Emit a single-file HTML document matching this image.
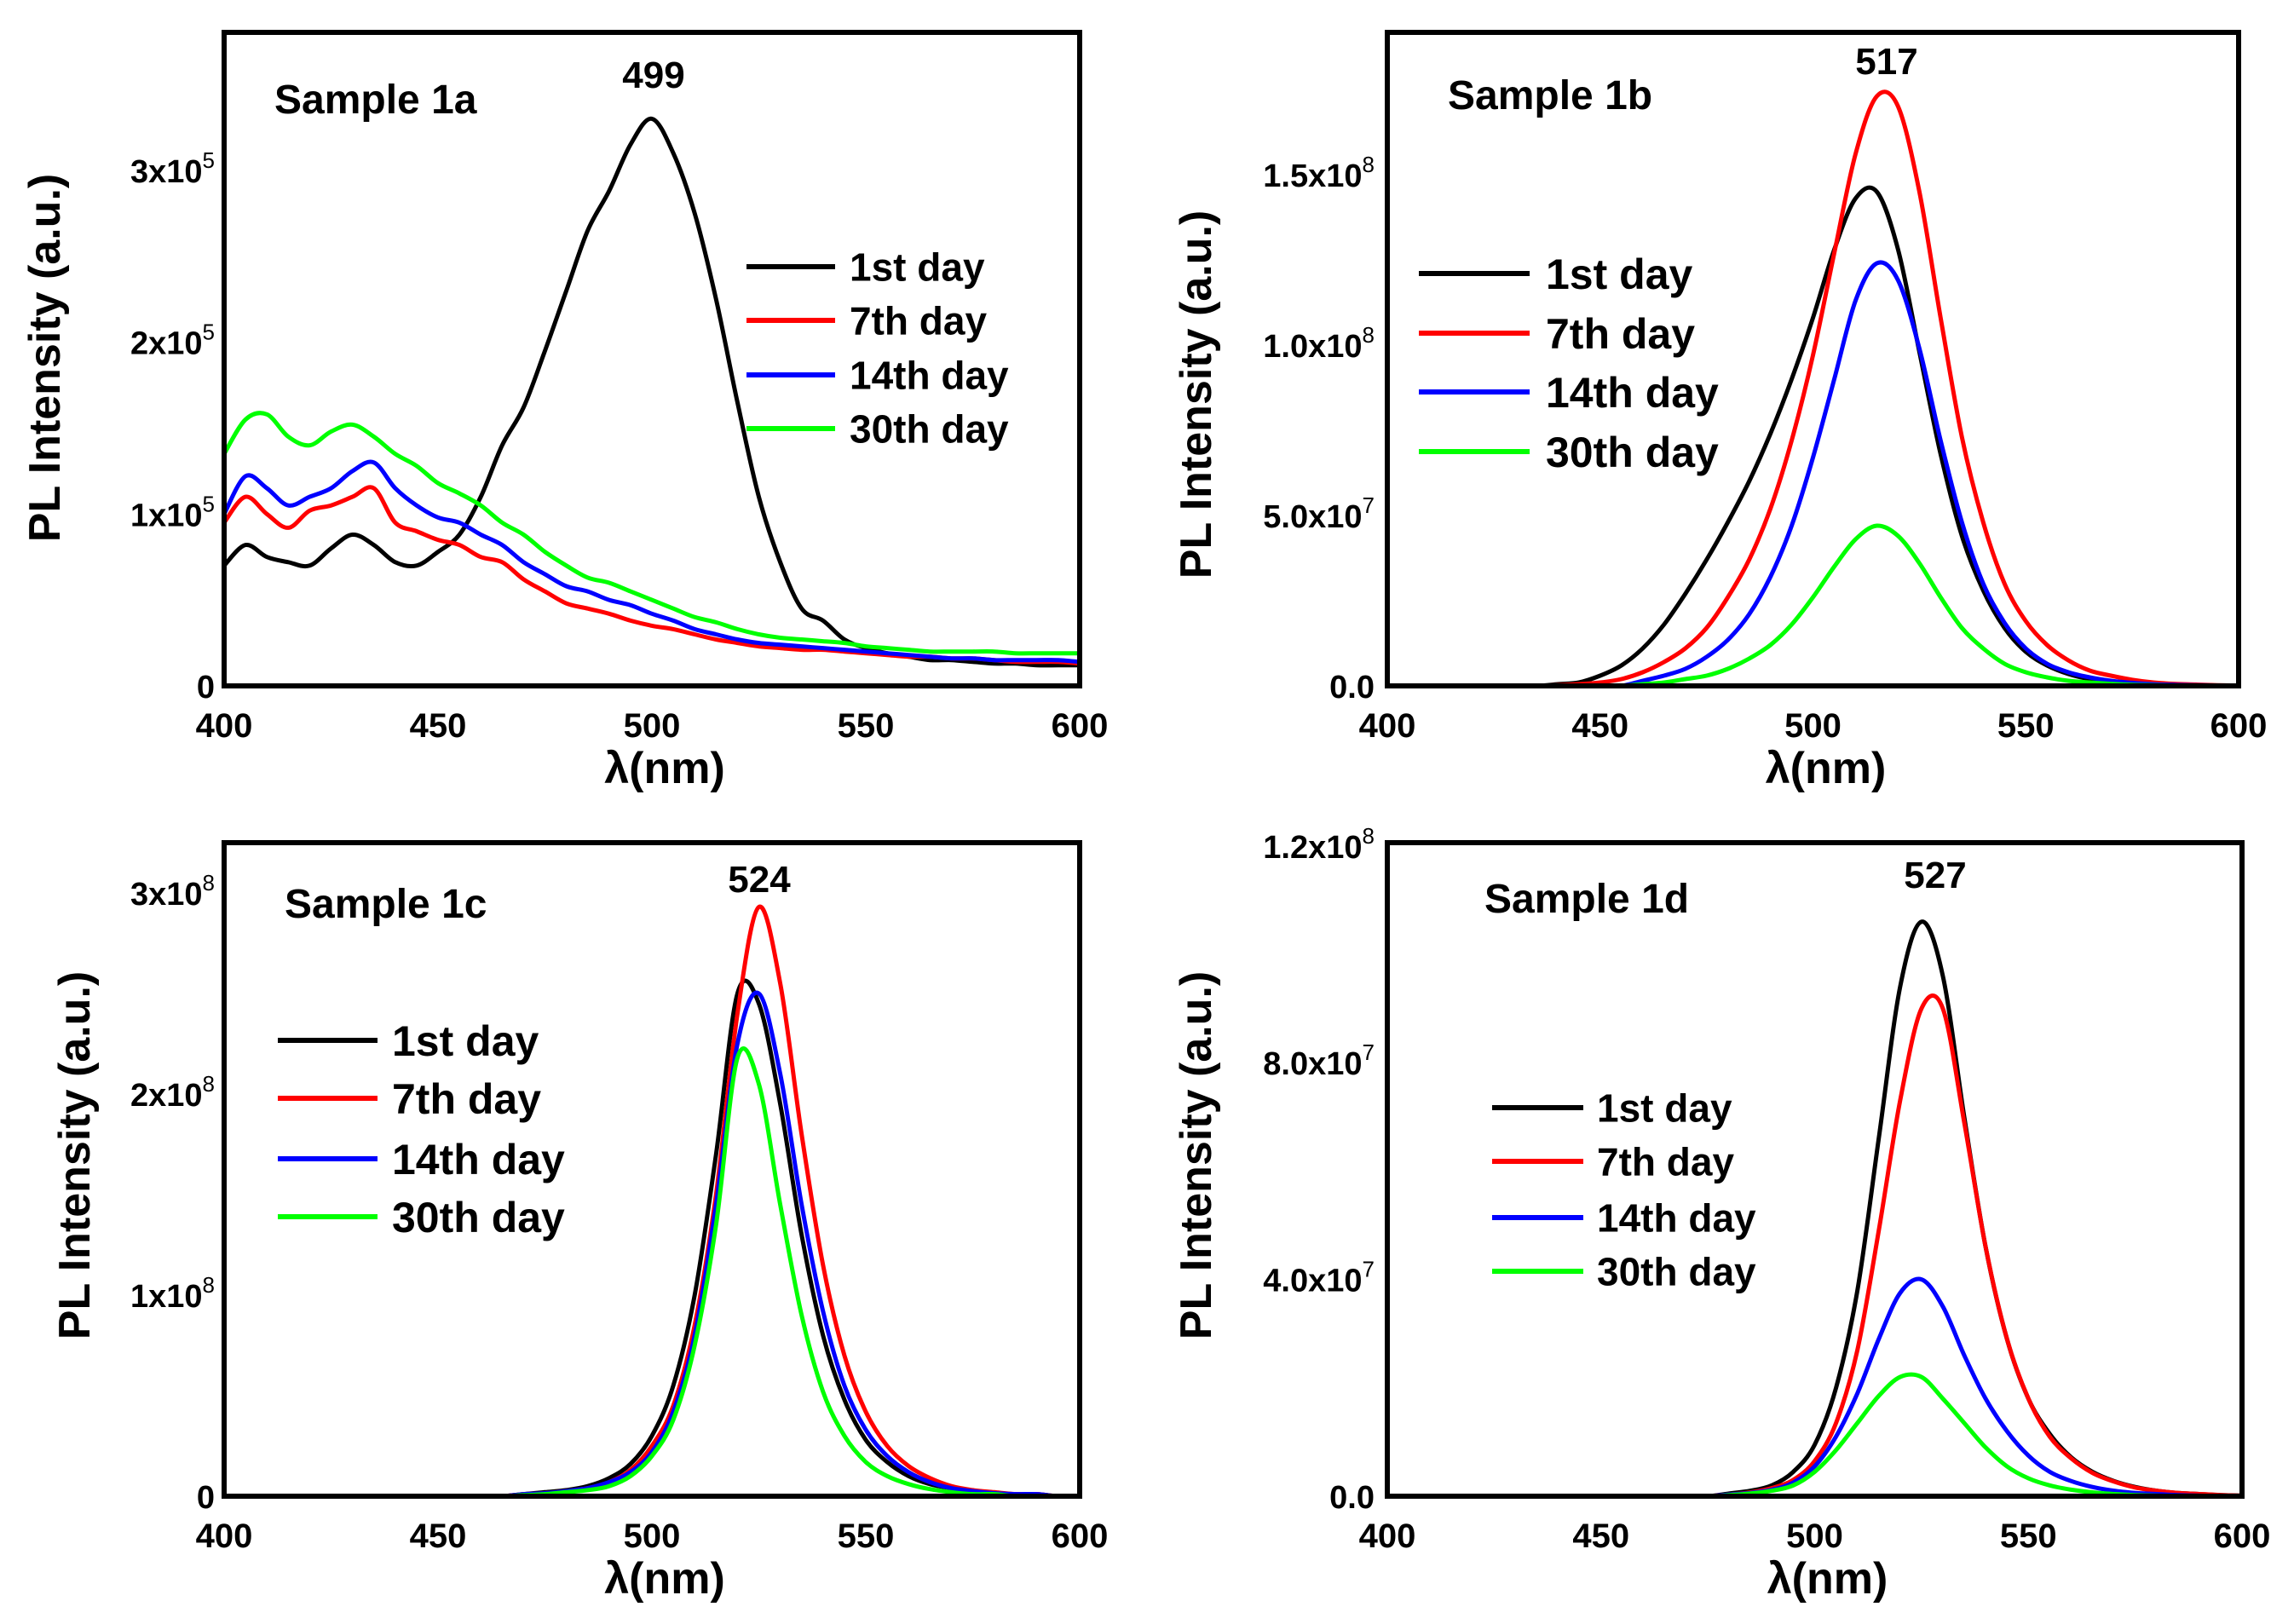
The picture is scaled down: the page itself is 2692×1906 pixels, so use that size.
<!DOCTYPE html>
<html><head><meta charset="utf-8">
<style>
html,body{margin:0;padding:0;background:#fff;}
svg{display:block;}
.nar{font-family:"Liberation Sans Narrow","Liberation Sans",sans-serif;font-weight:bold;}
.ytl{font-family:"Liberation Sans",sans-serif;font-weight:bold;font-size:52px;}
</style></head>
<body>
<svg id="fig" width="2692" height="1906" viewBox="0 0 2692 1906" xmlns="http://www.w3.org/2000/svg"></svg>
<script>
const wavelengths=[400,405,410,415,420,425,430,435,440,445,450,455,460,465,470,475,480,485,490,495,500,505,510,515,520,525,530,535,540,545,550,555,560,565,570,575,580,585,590,595,600];
const seriesNames=["1st day","7th day","14th day","30th day"];
const seriesColors=["#000000","#ff0000","#0000ff","#00ff00"];
// Sample 1a (x1e5)
const a1st=[.7,.82,.75,.72,.7,.8,.88,.82,.72,.7,.78,.88,1.1,1.4,1.62,1.95,2.3,2.65,2.88,3.15,3.3,3.1,2.75,2.25,1.65,1.1,.72,.45,.38,.27,.22,.19,.17,.15,.15,.14,.13,.13,.12,.12,.12];
const a7th=[.95,1.1,1.0,.92,1.02,1.05,1.1,1.15,.95,.9,.85,.82,.75,.72,.62,.55,.48,.45,.42,.38,.35,.33,.3,.27,.25,.23,.22,.21,.21,.2,.19,.18,.17,.17,.16,.16,.15,.14,.14,.14,.13];
const a14th=[1.0,1.22,1.15,1.05,1.1,1.15,1.25,1.3,1.15,1.05,.98,.95,.88,.82,.72,.65,.58,.55,.5,.47,.42,.38,.33,.3,.27,.25,.24,.23,.22,.21,.2,.19,.18,.17,.16,.16,.15,.15,.15,.15,.14];
const a30th=[1.35,1.55,1.58,1.45,1.4,1.48,1.52,1.45,1.35,1.28,1.18,1.12,1.05,.95,.88,.78,.7,.63,.6,.55,.5,.45,.4,.37,.33,.3,.28,.27,.26,.25,.23,.22,.21,.2,.2,.2,.2,.19,.19,.19,.19];
// Sample 1b (x1e7)
const b1st=[0,0,0,0,0,0,0,0,.05,.1,.3,.6,1.1,1.8,2.7,3.7,4.8,6.0,7.4,9.0,10.8,12.8,14.3,14.5,12.8,9.8,6.8,4.4,2.8,1.7,1.0,.6,.35,.2,.12,.07,.04,.02,.02,.01,.01];
const b7th=[0,0,0,0,0,0,0,0,.02,.05,.1,.2,.4,.7,1.1,1.7,2.6,3.7,5.2,7.2,9.7,12.7,15.6,17.3,17.0,14.5,10.8,7.3,4.8,3.0,1.9,1.2,.75,.45,.3,.18,.1,.06,.04,.02,.01];
const b14th=[0,0,0,0,0,0,0,0,0,0,0,0,.15,.3,.5,.85,1.35,2.1,3.2,4.7,6.7,9.0,11.3,12.4,11.9,9.9,7.2,4.8,3.0,1.85,1.1,.65,.4,.25,.15,.09,.05,.03,.02,.01,.01];
const b30th=[0,0,0,0,0,0,0,0,0,0,0,0,.05,.1,.2,.3,.5,.8,1.2,1.8,2.6,3.5,4.3,4.7,4.4,3.6,2.6,1.7,1.1,.65,.4,.25,.15,.1,.06,.03,.02,.01,.01,0,0];
// Sample 1c (x1e8)
const c1st=[0,0,0,0,0,0,0,0,0,0,0,0,0,0,.01,.02,.03,.05,.09,.16,.3,.55,1.0,1.7,2.5,2.45,1.95,1.3,.8,.48,.28,.17,.1,.06,.04,.025,.015,.01,.01,0,0];
const c7th=[0,0,0,0,0,0,0,0,0,0,0,0,0,0,.01,.015,.025,.04,.07,.13,.25,.45,.85,1.5,2.4,2.93,2.55,1.8,1.15,.7,.42,.25,.15,.09,.05,.03,.02,.01,.01,0,0];
const c14th=[0,0,0,0,0,0,0,0,0,0,0,0,0,0,.01,.015,.025,.04,.07,.12,.22,.42,.8,1.45,2.25,2.5,2.1,1.45,.92,.55,.33,.2,.12,.07,.04,.025,.015,.01,.01,0,0];
const c30th=[0,0,0,0,0,0,0,0,0,0,0,0,0,0,.005,.01,.02,.03,.05,.1,.2,.38,.75,1.35,2.18,2.05,1.45,.9,.52,.3,.17,.1,.06,.035,.02,.01,.01,0,0,0,0];
// Sample 1d (x1e7)
const d1st=[0,0,0,0,0,0,0,0,0,0,0,0,0,0,0,0,.05,.1,.2,.45,.95,2.0,3.8,6.6,9.4,10.6,9.6,7.0,4.6,2.9,1.8,1.15,.72,.45,.28,.17,.1,.06,.04,.02,.01];
const d7th=[0,0,0,0,0,0,0,0,0,0,0,0,0,0,0,0,.03,.07,.15,.3,.65,1.35,2.7,4.9,7.3,9.0,9.0,6.9,4.6,2.9,1.8,1.1,.7,.43,.27,.16,.1,.06,.04,.02,.01];
const d14th=[0,0,0,0,0,0,0,0,0,0,0,0,0,0,0,0,.03,.06,.12,.25,.55,1.1,1.9,2.9,3.75,4.0,3.5,2.6,1.8,1.2,.75,.45,.28,.17,.1,.06,.04,.02,.01,0,0];
const d30th=[0,0,0,0,0,0,0,0,0,0,0,0,0,0,0,0,.02,.05,.1,.2,.45,.85,1.35,1.85,2.2,2.2,1.8,1.35,.9,.55,.33,.2,.12,.07,.04,.02,.01,0,0,0,0];
const xTicks=[400,450,500,550,600];
const aYTicks=[0,1,2,3]; const aYLabels=[["0",""],["1x10","5"],["2x10","5"],["3x10","5"]];
const bYTicks=[0,5,10,15]; const bYLabels=[["0.0",""],["5.0x10","7"],["1.0x10","8"],["1.5x10","8"]];
const cYTicks=[0,1,2,3]; const cYLabels=[["0",""],["1x10","8"],["2x10","8"],["3x10","8"]];
const dYTicks=[0,4,8,12]; const dYLabels=[["0.0",""],["4.0x10","7"],["8.0x10","7"],["1.2x10","8"]];

const NS="http://www.w3.org/2000/svg";
const svg=document.getElementById('fig');
function mk(tag,attrs,parent){const e=document.createElementNS(NS,tag);for(const k in attrs)e.setAttribute(k,attrs[k]);(parent||svg).appendChild(e);return e;}

const panels=[
 {id:'a',x0:263,x1:1267,yb:805,yt:38,ppu:201.7,data:[a1st,a7th,a14th,a30th],yt_:aYTicks,yl:aYLabels,ylx:252,
  sample:"Sample 1a",sx:322,sy:133,peak:"499",px:767,py:103,leg:{lx0:876,lx1:980,tx:997,ys:[313,376,440,503],fs:46},ytx:52,yty:420},
 {id:'b',x0:1628,x1:2627,yb:805,yt:38,ppu:40,data:[b1st,b7th,b14th,b30th],yt_:bYTicks,yl:bYLabels,ylx:1613,
  sample:"Sample 1b",sx:1699,sy:128,peak:"517",px:2214,py:87,leg:{lx0:1665,lx1:1795,tx:1814,ys:[321,391,460,530],fs:50},ytx:1403,yty:463},
 {id:'c',x0:263,x1:1267,yb:1756,yt:989,ppu:236,data:[c1st,c7th,c14th,c30th],yt_:cYTicks,yl:cYLabels,ylx:252,
  sample:"Sample 1c",sx:334,sy:1077,peak:"524",px:891,py:1047,leg:{lx0:326,lx1:443,tx:460,ys:[1221,1289,1360,1428],fs:50},ytx:87,yty:1356},
 {id:'d',x0:1628,x1:2631,yb:1756,yt:989,ppu:63.6,data:[d1st,d7th,d14th,d30th],yt_:dYTicks,yl:dYLabels,ylx:1613,
  sample:"Sample 1d",sx:1742,sy:1071,peak:"527",px:2271,py:1042,leg:{lx0:1751,lx1:1858,tx:1874,ys:[1300,1363,1429,1492],fs:46},ytx:1403,yty:1356}
];

function catmull(pts){let d="M"+pts[0][0].toFixed(1)+","+pts[0][1].toFixed(1);
 for(let i=0;i<pts.length-1;i++){const p0=pts[Math.max(0,i-1)],p1=pts[i],p2=pts[i+1],p3=pts[Math.min(pts.length-1,i+2)];
  const c1=[p1[0]+(p2[0]-p0[0])/6,p1[1]+(p2[1]-p0[1])/6],c2=[p2[0]-(p3[0]-p1[0])/6,p2[1]-(p3[1]-p1[1])/6];
  d+=" C"+c1[0].toFixed(1)+","+c1[1].toFixed(1)+" "+c2[0].toFixed(1)+","+c2[1].toFixed(1)+" "+p2[0].toFixed(1)+","+p2[1].toFixed(1);}
 return d;}

panels.forEach(p=>{
 const g=mk('g',{});
 
 
 const xs=v=>p.x0+(v-400)/200*(p.x1-p.x0);
 const ys=v=>p.yb-v*p.ppu;
 const cp=mk('clipPath',{id:'clip'+p.id},g);
 mk('rect',{x:p.x0,y:p.yt,width:p.x1-p.x0,height:p.yb-p.yt-2},cp);
 p.data.forEach((arr,si)=>{
  const pts=arr.map((v,i)=>[xs(wavelengths[i]),ys(v)]);
  const path=mk('path',{d:catmull(pts),fill:'none',stroke:seriesColors[si],'stroke-width':5,'stroke-linejoin':'round','clip-path':'url(#clip'+p.id+')'},g);
  
  
 });
 const box=mk('rect',{x:p.x0,y:p.yt,width:p.x1-p.x0,height:p.yb-p.yt,fill:'none',stroke:'#000','stroke-width':6},g);
 
 
 xTicks.forEach(t=>{
  const tx=mk('text',{x:xs(t),y:p.yb+60,'text-anchor':'middle','font-size':40,class:'nar'},g);
  tx.textContent=t;
  
  
 });
 p.yt_.forEach((t,i)=>{
  const lab=p.yl[i];
  const tx=mk('text',{x:p.ylx,y:ys(t)+14,'text-anchor':'end','font-size':38,class:'nar'},g);
  
  
  const s1=mk('tspan',{},tx); s1.textContent=lab[0];
  if(lab[1]){const s2=mk('tspan',{dy:-17,'font-size':26,'font-weight':'normal'},tx); s2.textContent=lab[1];}
 });
 const xt=mk('text',{x:(p.x0+p.x1)/2+15,y:p.yb+114,'text-anchor':'middle','font-size':52,class:'nar'},g);
 xt.textContent="λ(nm)";
 
 
 const yt=mk('text',{x:0,y:0,'text-anchor':'middle',class:'ytl',transform:'translate('+(p.ytx+18)+','+p.yty+') rotate(-90)'},g);
 yt.textContent="PL Intensity (a.u.)";
 
 
 const st=mk('text',{x:p.sx,y:p.sy,'font-size':48,class:'nar'},g);
 st.textContent=p.sample;
 
 
 const pk=mk('text',{x:p.px,y:p.py,'text-anchor':'middle','font-size':44,class:'nar'},g);
 pk.textContent=p.peak;
 
 
 p.leg.ys.forEach((y,si)=>{
  const ln=mk('line',{x1:p.leg.lx0,x2:p.leg.lx1,y1:y,y2:y,stroke:seriesColors[si],'stroke-width':6},g);
  
  
  const lt=mk('text',{x:p.leg.tx,y:y+p.leg.fs*0.36,'font-size':p.leg.fs,class:'nar'},g);
  lt.textContent=seriesNames[si];
  
  
 });
});
</script>
</body></html>
